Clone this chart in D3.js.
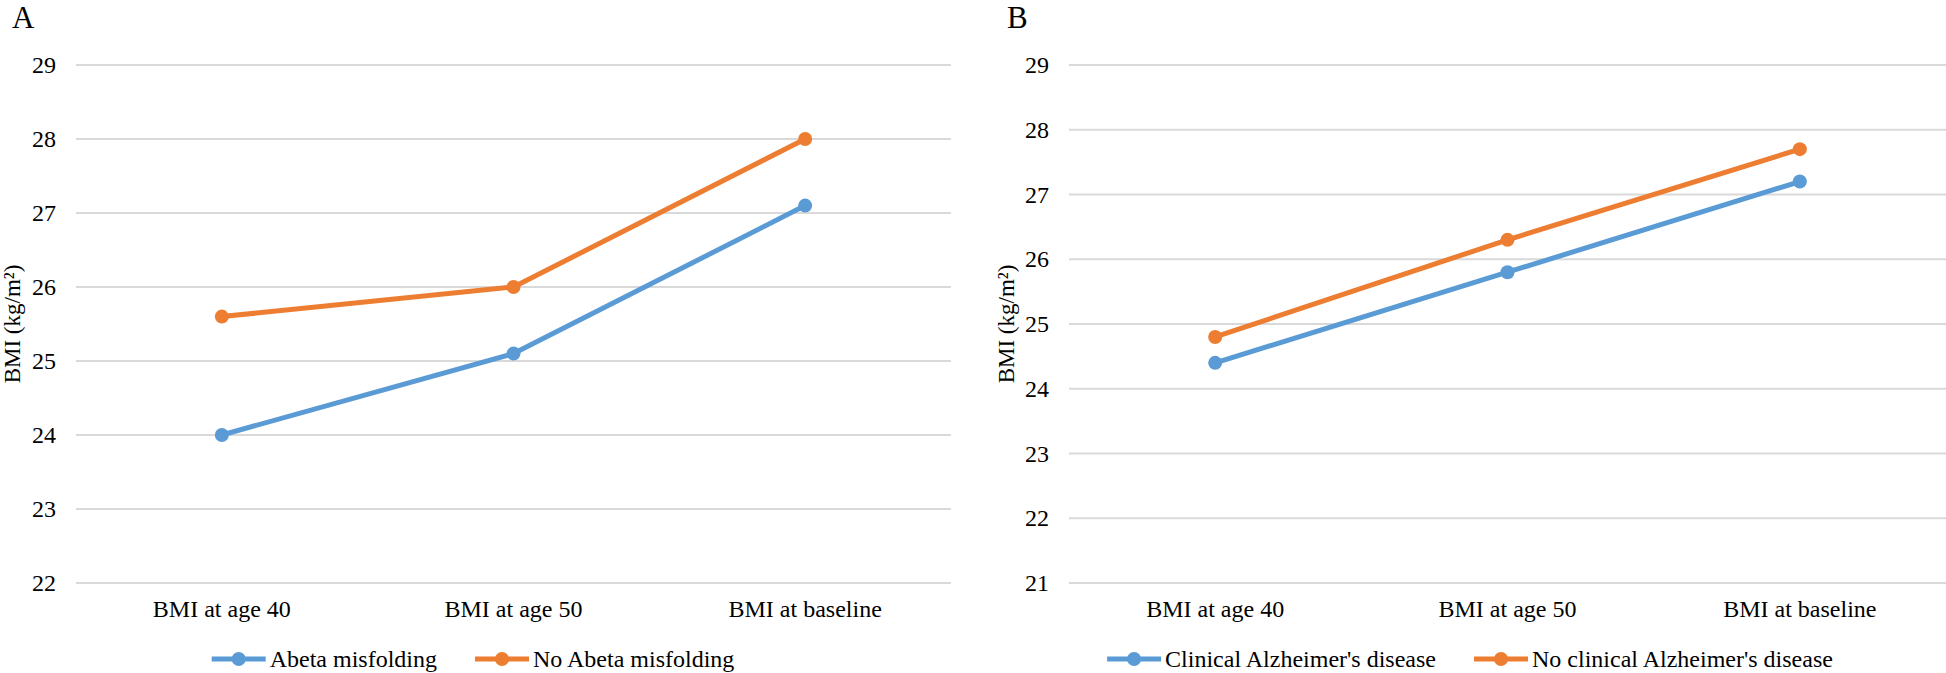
<!DOCTYPE html>
<html>
<head>
<meta charset="utf-8">
<script src="https://cdnjs.cloudflare.com/ajax/libs/d3/7.8.5/d3.min.js"></script>
<style>
  html, body { margin: 0; padding: 0; background: #fff; }
</style>
</head>
<body>
<div id="chart"></div>
<script>
'use strict';

// data
const categories = ["BMI at age 40", "BMI at age 50", "BMI at baseline"];

const abetaMisfolding   = [24.0, 25.1, 27.1];
const noAbetaMisfolding = [25.6, 26.0, 28.0];

const clinicalAD   = [24.4, 25.8, 27.2];
const noClinicalAD = [24.8, 26.3, 27.7];

const ticksA = [22, 23, 24, 25, 26, 27, 28, 29];
const ticksB = [21, 22, 23, 24, 25, 26, 27, 28, 29];

const namesA = ["Abeta misfolding", "No Abeta misfolding"];
const namesB = ["Clinical Alzheimer's disease", "No clinical Alzheimer's disease"];

const colors = ["#5B9BD5", "#ED7D31"];

const W = 1946, H = 673;
const plotTop = 65, plotBottom = 583;
const fontSize = 24;
const serif = '"Liberation Serif", "Times New Roman", "DejaVu Serif", serif';

var svg = d3.select('#chart').append('svg')
    .attr('width', W)
    .attr('height', H)
    .attr('font-family', serif)
    .style('font-family', serif);

drawPanel({
    letter: "A", letterX: 12,
    left: 76, right: 951,
    titleX: 20,
    ticks: ticksA,
    series: [abetaMisfolding, noAbetaMisfolding],
    names: namesA,
    legendCenter: 473
});

drawPanel({
    letter: "B", letterX: 1007,
    left: 1069, right: 1946,
    titleX: 1014,
    ticks: ticksB,
    series: [clinicalAD, noClinicalAD],
    names: namesB,
    legendCenter: 1470
});

function drawPanel(p) {
    var g = svg.append('g');

    var x = d3.scaleBand()
        .domain(categories)
        .range([p.left, p.right]);

    var y = d3.scaleLinear()
        .domain(d3.extent(p.ticks))
        .range([plotBottom, plotTop]);

    // gridlines
    g.append('g').selectAll('line').data(p.ticks).enter().append('line')
        .attr('x1', p.left).attr('x2', p.right)
        .attr('y1', function(d) { return y(d) }).attr('y2', function(d) { return y(d) })
        .attr('stroke', '#D9D9D9')
        .attr('stroke-width', 2);

    // y tick labels
    var yAxis = g.append('g')
        .attr('transform', 'translate(' + (p.left - 20) + ',0)')
        .call(d3.axisLeft(y).tickValues(p.ticks).tickFormat(d3.format('d')).tickSize(0).tickPadding(0));
    yAxis.attr('font-family', serif).attr('font-size', fontSize);
    yAxis.select('.domain').remove();
    yAxis.selectAll('text').attr('fill', '#000');

    // x labels
    var xAxis = g.append('g')
        .attr('transform', 'translate(0,' + (plotBottom + 17) + ')')
        .call(d3.axisBottom(x).tickSize(0).tickPadding(0));
    xAxis.attr('font-family', serif).attr('font-size', fontSize);
    xAxis.select('.domain').remove();
    xAxis.selectAll('text').attr('fill', '#000');

    // y title
    g.append('text')
        .attr('transform', 'translate(' + p.titleX + ',' + ((plotTop + plotBottom) / 2) + ') rotate(-90)')
        .attr('text-anchor', 'middle')
        .attr('font-size', 23)
        .text('BMI (kg/m²)');

    // panel letter
    g.append('text')
        .attr('x', p.letterX).attr('y', 28)
        .attr('font-size', 31)
        .text(p.letter);

    var line = d3.line()
        .x(function(d, i) { return x(categories[i]) + x.bandwidth() / 2 })
        .y(function(d) { return y(d) });

    p.series.forEach(function(s, k) {
        g.append('path')
            .attr('d', line(s))
            .attr('fill', 'none')
            .attr('stroke', colors[k])
            .attr('stroke-width', 5)
            .attr('stroke-linejoin', 'round');
        g.selectAll('.dot' + k).data(s).enter().append('circle')
            .attr('cx', function(d, i) { return x(categories[i]) + x.bandwidth() / 2 })
            .attr('cy', function(d) { return y(d) })
            .attr('r', 7)
            .attr('fill', colors[k]);
    });

    // legend
    var legend = g.append('g');
    var cursor = 0;
    p.names.forEach(function(name, k) {
        var it = legend.append('g');
        it.append('line')
            .attr('x1', 0).attr('x2', 54)
            .attr('stroke', colors[k]).attr('stroke-width', 5);
        it.append('circle')
            .attr('cx', 27).attr('r', 7).attr('fill', colors[k]);
        var t = it.append('text')
            .attr('x', 58).attr('dy', '0.35em')
            .attr('font-size', fontSize)
            .text(name);
        var w = 58 + t.node().getComputedTextLength();
        it.attr('transform', 'translate(' + cursor + ',0)');
        cursor += w + 38;
    });
    var total = cursor - 38;
    legend.attr('transform', 'translate(' + (p.legendCenter - total / 2) + ',659)');
}
</script>
</body>
</html>
